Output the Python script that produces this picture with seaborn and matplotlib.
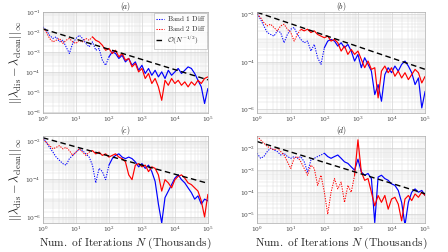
import numpy as np
import pandas as pd
import matplotlib
matplotlib.use("Agg")
import matplotlib.pyplot as plt
import seaborn as sns

# ---------------------------------------------------
# data, y values as log10 exponents
# ---------------------------------------------------
iters = [1.0, 1.26, 1.58, 2.0, 2.51, 3.16, 3.98, 5.01, 6.31, 7.94,
         10.0, 12.6, 15.8, 20.0, 25.1, 31.6, 39.8, 50.1, 63.1, 79.4,
         100, 126, 158, 200, 251, 316, 398, 501, 631, 794,
         1000, 1259, 1585, 1995, 2512, 3162, 3981, 5012, 6310, 7943,
         10000, 12589, 15849, 19953, 25119, 31623, 39811, 50119, 63096, 79433,
         100000]

a_band1 = [-1.75, -1.92, -2.17, -2.33, -2.25, -2.50, -2.42, -2.75, -3.08, -2.58,
           -2.33, -2.17, -2.33, -2.58, -2.75, -2.50, -2.92, -2.83, -3.42, -3.67,
           -3.25, -3.00, -3.08, -3.33, -3.17, -3.50, -3.33, -3.67, -3.50, -3.92,
           -3.67, -4.08, -3.83, -4.17, -3.92, -4.25, -4.00, -4.33, -3.92, -4.17,
           -4.00, -3.83, -4.08, -3.92, -3.75, -3.83, -4.08, -4.42, -4.75, -5.58,
           -4.83]
a_band2 = [-1.83, -2.00, -2.33, -2.50, -2.42, -2.33, -2.58, -2.42, -2.33, -2.50,
           -2.58, -2.42, -2.50, -2.33, -2.42, -2.25, -2.42, -2.50, -2.67, -2.92,
           -2.83, -3.08, -2.92, -3.25, -3.08, -3.42, -3.33, -3.75, -3.58, -4.00,
           -3.83, -4.33, -4.08, -4.58, -4.33, -4.75, -5.42, -4.42, -4.67, -4.33,
           -4.58, -4.42, -4.67, -4.50, -4.75, -4.50, -4.67, -4.42, -4.58, -4.33,
           -4.25]

b_band1 = [-1.97, -2.21, -2.49, -2.77, -2.85, -2.92, -2.70, -2.77, -3.20, -2.85,
           -2.63, -2.56, -2.85, -3.06, -3.20, -3.13, -3.55, -3.27, -3.83, -4.11,
           -3.41, -3.13, -3.06, -3.13, -3.34, -3.20, -3.41, -3.27, -3.55, -3.97,
           -3.69, -4.25, -3.83, -4.11, -4.39, -5.38, -4.96, -5.66, -4.54, -4.25,
           -4.46, -4.18, -4.39, -4.11, -3.97, -4.18, -4.46, -4.96, -4.68, -5.94,
           -5.24]
b_band2 = [-2.00, -2.14, -2.35, -2.49, -2.42, -2.56, -2.70, -2.49, -2.42, -2.63,
           -2.77, -3.13, -2.85, -2.63, -2.70, -2.63, -2.77, -2.70, -2.85, -2.92,
           -2.99, -2.92, -3.13, -3.06, -3.20, -3.55, -3.34, -3.69, -3.48, -3.69,
           -3.55, -3.90, -4.25, -3.97, -4.32, -4.25, -5.52, -4.39, -4.18, -4.46,
           -4.25, -4.61, -4.39, -4.68, -4.46, -4.75, -4.54, -4.32, -4.46, -4.89,
           -4.61]

c_band1 = [-1.83, -2.08, -2.34, -2.59, -2.85, -3.02, -3.19, -3.27, -2.93, -2.76,
           -2.59, -2.42, -2.51, -2.68, -2.85, -3.27, -4.20, -3.44, -3.61, -4.03,
           -3.27, -2.93, -2.76, -2.68, -2.85, -2.93, -2.85, -2.93, -3.10, -3.36,
           -3.19, -3.44, -3.27, -3.61, -4.12, -5.31, -6.30, -4.97, -4.63, -4.29,
           -3.95, -3.78, -4.03, -4.20, -4.46, -4.71, -5.05, -4.88, -5.31, -5.05,
           -5.14]
c_band2 = [-1.92, -2.08, -2.25, -2.42, -2.34, -2.25, -2.42, -2.34, -2.51, -2.76,
           -2.59, -2.42, -2.59, -2.76, -2.59, -2.51, -2.68, -2.59, -2.76, -2.68,
           -2.85, -2.76, -2.68, -2.85, -2.93, -3.10, -3.78, -4.03, -3.27, -3.19,
           -3.36, -3.27, -3.61, -3.36, -3.44, -3.78, -4.63, -4.03, -4.20, -4.46,
           -4.03, -3.86, -3.78, -3.95, -4.20, -4.29, -4.46, -4.63, -5.14, -5.98,
           -4.80]

d_band1 = [-2.23, -2.46, -2.38, -2.15, -2.00, -2.08, -2.15, -2.31, -2.23, -2.38,
           -2.46, -2.38, -2.46, -2.38, -2.62, -3.08, -2.54, -2.46, -2.38, -2.31,
           -2.23, -2.38, -2.46, -2.38, -2.31, -2.46, -2.62, -2.69, -2.85, -3.00,
           -2.50, -3.08, -3.23, -3.15, -3.38, -5.38, -3.31, -3.23, -3.38, -3.46,
           -3.62, -3.69, -3.92, -4.46, -5.50, -4.46, -4.00, -3.85, -4.00, -3.92,
           -4.15]
d_band2 = [-1.46, -1.62, -1.77, -1.92, -2.00, -2.08, -2.00, -2.15, -2.31, -2.62,
           -2.92, -2.46, -2.38, -2.62, -2.92, -3.23, -2.77, -2.92, -3.69, -3.23,
           -4.00, -5.00, -4.00, -3.38, -3.85, -3.54, -4.46, -3.69, -4.00, -3.23,
           -1.62, -3.08, -3.46, -3.38, -4.00, -4.62, -4.15, -4.46, -4.15, -4.77,
           -4.31, -4.23, -4.54, -5.30, -4.31, -4.15, -4.38, -4.08, -4.23, -4.00,
           -4.15]

# O(N^-1/2) reference line end points
ref_n = [1.0, 100000]
ref_a = [1.4e-2, 4.0e-5]
ref_b = [1.2e-2, 4.8e-5]
ref_c = [1.45e-2, 6.0e-5]
ref_d = [2.0e-2, 8.5e-5]

panels = [
    ("a", a_band1, a_band2, ref_a),
    ("b", b_band1, b_band2, ref_b),
    ("c", c_band1, c_band2, ref_c),
    ("d", d_band1, d_band2, ref_d),
]

# styling only
split_idx = {"a": (20, 15), "b": (20, 13), "c": (20, 15), "d": (20, 29)}
ylims = {"a": (10 ** -6.05, 1e-1), "b": (10 ** -6.15, 10 ** -1.9),
         "c": (10 ** -6.3, 10 ** -1.75), "d": (10 ** -5.4, 10 ** -1.45)}
yticks = {"a": [1e-6, 1e-5, 1e-4, 1e-3, 1e-2, 1e-1], "b": [1e-6, 1e-4, 1e-2],
          "c": [1e-6, 1e-4, 1e-2], "d": [1e-5, 1e-4, 1e-3, 1e-2]}
boxes = {"a": [0.096, 0.552, 0.368, 0.401], "b": [0.574, 0.552, 0.375, 0.401],
         "c": [0.096, 0.115, 0.368, 0.345], "d": [0.574, 0.115, 0.375, 0.345]}

sns.set_theme(style="white")
plt.rcParams["mathtext.fontset"] = "cm"
plt.rcParams["font.family"] = ["DejaVu Serif"]

fig = plt.figure(figsize=(4.48, 2.52), dpi=100)


def draw_curve(ax, vals, split, color, label):
    df = pd.DataFrame({"N": iters, "err": [10.0 ** v for v in vals]})
    sns.lineplot(data=df.iloc[:split + 1], x="N", y="err", color=color,
                 linestyle=(0, (1.2, 1.2)), linewidth=0.75, ax=ax, label=label,
                 estimator=None, sort=False)
    sns.lineplot(data=df.iloc[split:], x="N", y="err", color=color,
                 linestyle="-", linewidth=0.85, ax=ax, estimator=None, sort=False)


for key, band1, band2, ref in panels:
    ax = fig.add_axes(boxes[key])
    ax.set_xscale("log")
    ax.set_yscale("log")
    s1, s2 = split_idx[key]
    draw_curve(ax, band1, s1, "#0000ff", r"$\mathrm{Band\ 1\ Diff}$")
    draw_curve(ax, band2, s2, "#ff0000", r"$\mathrm{Band\ 2\ Diff}$")
    sns.lineplot(x=ref_n, y=ref, color="black", linestyle=(0, (4, 2.5)),
                 linewidth=1.0, ax=ax, label=r"$\mathcal{O}(N^{-1/2})$")

    ax.set_xlim(1, 1e5)
    ax.set_ylim(*ylims[key])
    ax.set_xticks([1, 1e1, 1e2, 1e3, 1e4, 1e5])
    ax.set_yticks(yticks[key])
    ax.tick_params(which="both", direction="in", labelsize=4.2,
                   labelcolor="#444444", length=1.5, width=0.4, pad=1.5,
                   colors="#444444")
    ax.tick_params(which="minor", length=0.8)
    ax.grid(True, which="major", color="#c8c8c8", linewidth=0.4)
    ax.grid(True, which="minor", color="#dcdcdc", linewidth=0.35)
    for sp in ax.spines.values():
        sp.set_color("#aaaaaa")
        sp.set_linewidth(0.5)
    ax.set_xlabel("")
    ax.set_ylabel("")
    ax.set_title(r"$(%s)$" % key, fontsize=5.5, pad=2)

    if key == "a":
        leg = ax.legend(loc="upper right", fontsize=5.2, frameon=True,
                        handlelength=1.2, handletextpad=0.3, borderpad=0.25,
                        labelspacing=0.15, borderaxespad=0.1, fancybox=False)
        leg.get_frame().set_edgecolor("#999999")
        leg.get_frame().set_linewidth(0.4)
    else:
        ax.get_legend().remove()

    if key in ("a", "c"):
        ax.set_ylabel(r"$||\lambda_{\rm dis}-\lambda_{\rm clean}||_\infty$",
                      fontsize=8.8, labelpad=1)
    if key in ("c", "d"):
        ax.set_xlabel(r"$\mathrm{Num.\ of\ Iterations\ }N\mathrm{\ (Thousands)}$",
                      fontsize=8.2, labelpad=1)

fig.savefig("out.png", dpi=100)
